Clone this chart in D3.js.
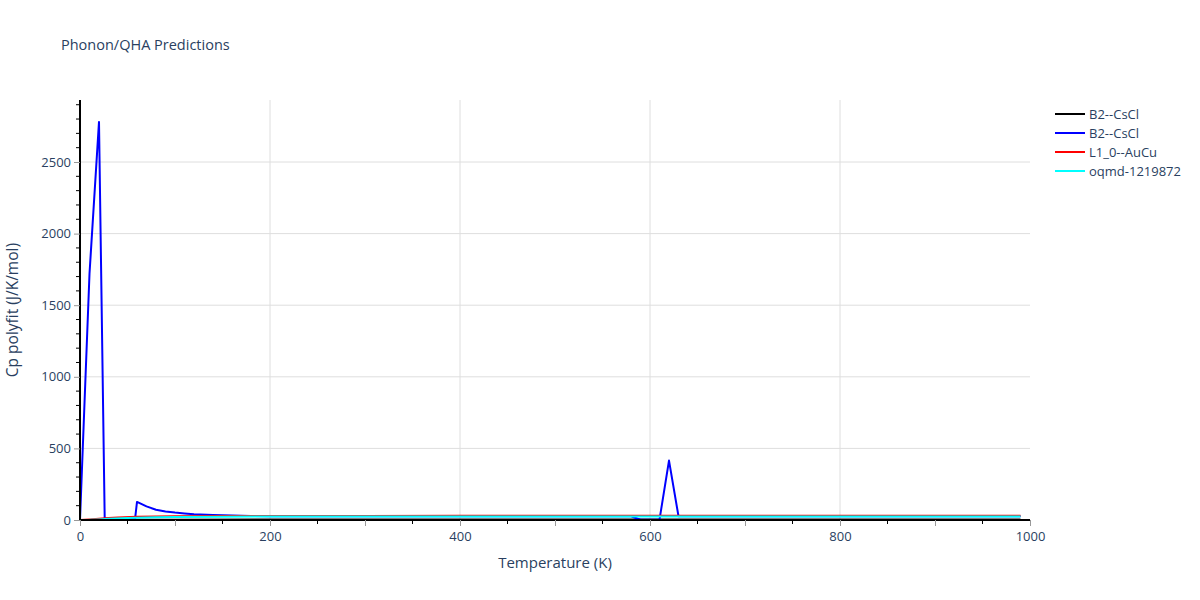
<!DOCTYPE html>
<html>
<head>
<meta charset="utf-8">
<script src="https://cdn.jsdelivr.net/npm/d3@7"></script>
<style>
  body { margin: 0; background: #fff; }
  text { font-family: "Open Sans", verdana, arial, sans-serif; fill: #2a3f5f; }
</style>
</head>
<body>
<script>
var width = 1200,
    height = 600,
    margin = {top: 100, right: 170, bottom: 80, left: 80};

// series data
var seriesNames = ["B2--CsCl", "B2--CsCl", "L1_0--AuCu", "oqmd-1219872"];
var seriesColors = ["#000000", "#0000ff", "#ff0000", "#00ffff"];

var blackT = [0, 10, 20, 50, 100, 200, 400, 600, 800, 990];
var blackCp = [0, 0.5, 1, 2, 2.5, 3, 3, 3, 3, 3];

var blueT = [0, 10, 20, 26, 40, 58, 60, 70, 80, 90, 100, 110, 120, 140, 160, 180, 200, 300, 400, 500, 580, 590, 600, 610, 620, 630, 700, 800, 900, 990];
var blueCp = [0, 1720, 2780, 8, 9, 10, 126, 95, 72, 60, 52, 46, 41, 35, 31, 28, 27, 26, 26, 26, 26, 2, 2, 2, 415, 26, 26, 26, 26, 26];

var redT = [0, 10, 20, 30, 40, 60, 80, 100, 150, 200, 300, 400, 600, 800, 990];
var redCp = [0, 4, 9, 14, 18, 22, 24, 26, 27.5, 28, 28.5, 29, 29, 29, 29];

var cyanT = [0, 10, 20, 30, 50, 80, 100, 150, 200, 400, 600, 800, 990];
var cyanCp = [0, 1, 4, 8, 14, 19, 21, 23, 24, 25, 25, 25, 25];

var xTicks = [0, 200, 400, 600, 800, 1000];
var yTicks = [0, 500, 1000, 1500, 2000, 2500];

var series = [
  {T: blackT, cp: blackCp},
  {T: blueT, cp: blueCp},
  {T: redT, cp: redCp},
  {T: cyanT, cp: cyanCp}
];

var svg = d3.select("body").append("svg")
    .attr("width", width)
    .attr("height", height);

var x = d3.scaleLinear()
    .domain([0, 1000])
    .range([margin.left, width - margin.right]);

var y = d3.scaleLinear()
    .domain([0, 2933])
    .range([height - margin.bottom, margin.top]);

// grid
svg.append("g").selectAll("line")
    .data(xTicks.slice(1, -1))
    .enter().append("line")
    .attr("x1", function(d) { return x(d); })
    .attr("x2", function(d) { return x(d); })
    .attr("y1", y(0))
    .attr("y2", margin.top)
    .style("stroke", "#dedede");

svg.append("g").selectAll("line")
    .data(yTicks.slice(1))
    .enter().append("line")
    .attr("x1", x(0))
    .attr("x2", x(1000))
    .attr("y1", function(d) { return y(d); })
    .attr("y2", function(d) { return y(d); })
    .style("stroke", "#dedede");

// traces
var line = d3.line()
    .x(function(d) { return x(d[0]); })
    .y(function(d) { return y(d[1]); });

svg.append("g").selectAll("path")
    .data(series)
    .enter().append("path")
    .attr("d", function(s) { return line(d3.zip(s.T, s.cp)); })
    .style("fill", "none")
    .style("stroke", function(s, i) { return seriesColors[i]; })
    .style("stroke-width", 2)
    .style("stroke-linejoin", "round");

// minor ticks
svg.append("g").selectAll("line")
    .data(d3.range(50, 1000, 100))
    .enter().append("line")
    .attr("x1", function(d) { return x(d); })
    .attr("x2", function(d) { return x(d); })
    .attr("y1", y(0))
    .attr("y2", y(0) + 4)
    .style("stroke", "#000");

svg.append("g").selectAll("line")
    .data(d3.range(100, 2933, 100).filter(function(d) { return d % 500; }))
    .enter().append("line")
    .attr("x1", x(0) - 4)
    .attr("x2", x(0))
    .attr("y1", function(d) { return y(d); })
    .attr("y2", function(d) { return y(d); })
    .style("stroke", "#000");

// axes
var xAxis = svg.append("g")
    .attr("transform", "translate(0," + y(0) + ")")
    .call(d3.axisBottom(x).tickValues(d3.range(0, 1001, 100)).tickSize(6).tickFormat(function(d) { return d % 200 ? "" : d; }));

var yAxis = svg.append("g")
    .attr("transform", "translate(" + x(0) + ",0)")
    .call(d3.axisLeft(y).tickValues(yTicks).tickSize(6).tickFormat(d3.format("d")));

[xAxis, yAxis].forEach(function(a) {
  a.select(".domain").style("stroke", "#000").style("stroke-width", 2);
  a.selectAll(".tick line").style("stroke", "#999");
  a.selectAll(".tick text").style("font-size", "13px").style("fill", "#2a3f5f")
    .style("font-family", "'Open Sans', verdana, arial, sans-serif");
});
xAxis.select(".domain").attr("d", "M" + x(0) + ",0H" + x(1000));
yAxis.select(".domain").attr("d", "M0," + y(0) + "V" + margin.top);
xAxis.selectAll(".tick text").attr("dy", "0.9em");

// titles
svg.append("text")
    .attr("x", 61)
    .attr("y", 50)
    .style("font-size", "14.5px")
    .text("Phonon/QHA Predictions");

svg.append("text")
    .attr("x", x(500))
    .attr("y", 568)
    .attr("text-anchor", "middle")
    .style("font-size", "15px")
    .text("Temperature (K)");

svg.append("text")
    .attr("transform", "translate(18," + y(1466) + ") rotate(-90)")
    .attr("text-anchor", "middle")
    .style("font-size", "15.5px")
    .text("Cp polyfit (J/K/mol)");

// legend
var legend = svg.append("g").selectAll("g")
    .data(seriesNames)
    .enter().append("g")
    .attr("transform", function(d, i) { return "translate(1055," + (114 + i * 19) + ")"; });

legend.append("line")
    .attr("x1", 0)
    .attr("x2", 30)
    .style("stroke", function(d, i) { return seriesColors[i]; })
    .style("stroke-width", 2);

legend.append("text")
    .attr("x", 34)
    .attr("dy", "0.35em")
    .style("font-size", "13px")
    .text(function(d) { return d; });
</script>
</body>
</html>
